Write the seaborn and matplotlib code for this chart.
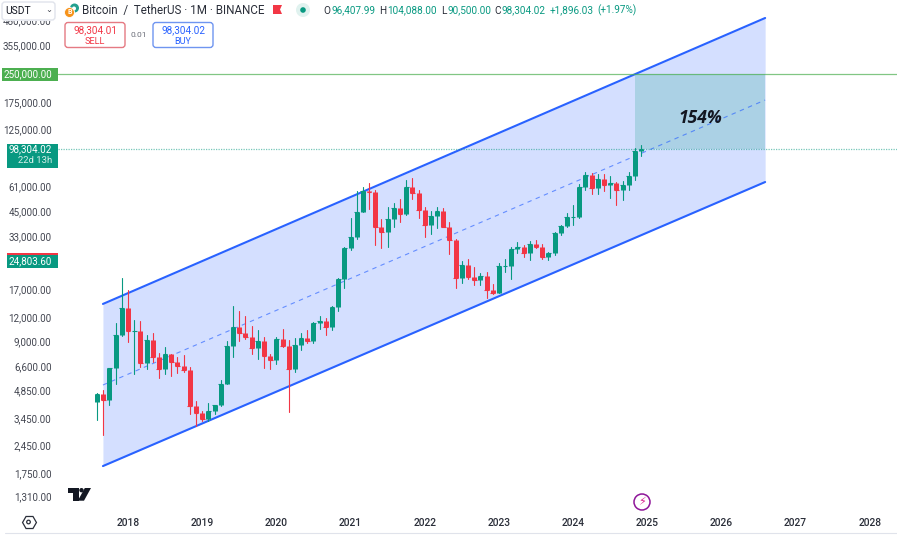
"""Bitcoin / TetherUS monthly candles with a rising channel and a target box."""

import matplotlib

matplotlib.use("Agg")

import matplotlib.pyplot as plt
import numpy as np
import pandas as pd
import seaborn as sns
from matplotlib.lines import Line2D
from matplotlib.patches import Circle, Polygon, Rectangle, FancyBboxPatch

# monthly candles, Aug 2017 .. Dec 2024
OPENS = [4261, 4689, 4378, 6463, 9837,
         13715, 10285, 10325, 6922, 9246, 7485, 6391, 7728, 7011, 6626, 6370, 4041,
         3701, 3434, 3814, 4103, 5321, 8555, 10854, 10080, 9588, 8289, 9140, 7541,
         7195, 9351, 8523, 6412, 8620, 9448, 9138, 11335, 11649, 10776, 13791, 19695,
         28923, 33092, 45134, 58739, 57697, 37253, 35045, 41461, 47100, 43820, 61299, 56950,
         46216, 38466, 43160, 45510, 37630, 31801, 19942, 23296, 20048, 19422, 20490, 17165,
         16541, 23125, 23142, 28465, 29233, 27210, 30472, 29232, 25940, 26962, 34639, 37723,
         42283, 42580, 61130, 71280, 60672, 67540, 62772, 64628, 58974, 63327, 70292, 96407]
HIGHS = [4745, 4939, 6470, 11300, 19798,
         17176, 11786, 11710, 9759, 10020, 7786, 8491, 7750, 7410, 7680, 6586, 4312,
         3810, 4198, 4121, 5600, 9074, 13970, 13147, 12325, 10905, 10370, 9513, 7750,
         9553, 10500, 9188, 9460, 10067, 10380, 11444, 12468, 12050, 14100, 19863, 29300,
         41950, 58352, 61844, 64854, 59500, 41330, 48168, 50500, 52920, 67000, 69000, 59053,
         47990, 45821, 48189, 47444, 39845, 32397, 24668, 25214, 22799, 21085, 21480, 18387,
         23960, 25250, 29184, 31000, 29820, 31431, 31804, 30244, 27483, 35280, 38450, 44700,
         48970, 63913, 73777, 72797, 71979, 71980, 70079, 65660, 66498, 73620, 99800, 104088]
LOWS = [3400, 2817, 4110, 5325, 9722,
        9035, 6000, 6600, 6430, 7032, 5750, 6070, 5880, 6100, 6200, 3652, 3156,
        3349, 3373, 3670, 4067, 5350, 7440, 9080, 9320, 7710, 7300, 6515, 6435,
        6850, 8445, 3782, 6150, 8117, 8833, 8893, 10518, 9825, 10374, 13195, 17572,
        28130, 32296, 45000, 47044, 30000, 28805, 29278, 37332, 39600, 43283, 53256, 42000,
        32917, 34322, 37155, 37578, 26700, 17622, 18781, 19520, 18125, 18190, 15476, 16256,
        16499, 21351, 19549, 26942, 25811, 24800, 28861, 25166, 24901, 26538, 34097, 37615,
        38555, 41884, 59005, 56552, 56500, 58402, 53485, 49000, 52550, 58946, 66835, 90500]
CLOSES = [4724, 4378, 6463, 9838, 13716,
          10285, 10326, 6923, 9246, 7485, 6391, 7727, 7012, 6626, 6371, 4041, 3702,
          3434, 3814, 4103, 5321, 8555, 10854, 10080, 9588, 8289, 9140, 7541, 7195,
          9352, 8523, 6410, 8620, 9448, 9138, 11335, 11649, 10776, 13791, 19695, 28923,
          33092, 45135, 58740, 57694, 37253, 35045, 41461, 47100, 43824, 61299, 56950, 46216,
          38466, 43160, 45510, 37630, 31801, 19942, 23293, 20050, 19422, 20490, 17164, 16542,
          23125, 23141, 28465, 29233, 27210, 30472, 29232, 25940, 26962, 34639, 37723, 42283,
          42580, 61130, 71280, 60672, 67540, 62772, 64628, 58974, 63327, 70292, 96407, 98304]

CHANNEL_X = [-4.05, 103.07]
CHANNEL_TOP = [14400, 501000]
CHANNEL_MID = [5265, 181000]
CHANNEL_BOTTOM = [1925, 65400]
BOX_X = [82.05, 103.07]
BOX_LOW = 98304
BOX_HIGH = 250000

# 250,000 is printed in its own tag below, the ones behind the other tags do not show
PRICE_TICKS = [480000, 355000, 175000, 125000, 61000, 45000, 33000,
               17000, 12000, 9000, 6600, 4850, 3450, 2450, 1750, 1310]
YEAR_TICKS = [0, 12, 24, 36, 48, 60, 72, 84, 96, 108, 120]
YEAR_LABELS = ["2018", "2019", "2020", "2021", "2022", "2023", "2024", "2025", "2026", "2027", "2028"]

GREEN = "#089981"
RED = "#F23645"
BLUE = "#2962FF"
TEXT = "#434651"
FONT = "Roboto"
W, H = 897, 537


def fx(x):
    return x / W


def fy(y):
    return 1 - y / H


def put_text(fig, x, y, s, **kw):
    kw.setdefault("va", "center")
    kw.setdefault("family", FONT)
    kw.setdefault("zorder", 7)
    return fig.text(fx(x), fy(y), s, **kw)


def put_rect(fig, x0, y0, x1, y1, **kw):
    kw.setdefault("zorder", 6)
    fig.add_artist(Rectangle((fx(x0), fy(y1)), (x1 - x0) / W, (y1 - y0) / H,
                             transform=fig.transFigure, **kw))


def put_round(fig, x0, y0, x1, y1, edge):
    # rounded box in pixel units, so the corners stay round
    fig.add_artist(FancyBboxPatch((x0, H - y1), x1 - x0, y1 - y0,
                                  boxstyle="round,pad=0,rounding_size=3",
                                  transform=None, fc="white", ec=edge, lw=1.0, zorder=6))


def put_poly(fig, pts, color):
    fig.add_artist(Polygon([(fx(a), fy(b)) for a, b in pts], closed=True, fc=color, ec="none",
                           transform=fig.transFigure, zorder=7))


def put_circle(fig, x, y, r, **kw):
    kw.setdefault("zorder", 7)
    fig.add_artist(Circle((x, H - y), r, transform=None, **kw))


def candle_tables():
    df = pd.DataFrame({"month": np.arange(-5, len(OPENS) - 5), "open": OPENS, "high": HIGHS,
                       "low": LOWS, "close": CLOSES})
    df["dir"] = np.where(df["close"] >= df["open"], "up", "down")
    wicks = df.melt(id_vars=["month", "dir"], value_vars=["low", "high"], value_name="price")
    bodies = df.melt(id_vars=["month", "dir"], value_vars=["open", "close"], value_name="price")
    return df, wicks, bodies


def draw_chart(ax):
    pal = {"up": GREEN, "down": RED}
    df, wicks, bodies = candle_tables()

    ax.fill_between(CHANNEL_X, CHANNEL_BOTTOM, CHANNEL_TOP, color=BLUE, alpha=0.2, lw=0, zorder=1)
    ax.fill_between(BOX_X, [BOX_LOW, BOX_LOW], [BOX_HIGH, BOX_HIGH], color=GREEN, alpha=0.2, lw=0, zorder=1.5)
    sns.lineplot(x=CHANNEL_X, y=CHANNEL_TOP, color=BLUE, lw=1.5, ax=ax, zorder=2)
    sns.lineplot(x=CHANNEL_X, y=CHANNEL_BOTTOM, color=BLUE, lw=1.5, ax=ax, zorder=2)
    sns.lineplot(x=CHANNEL_X, y=CHANNEL_MID, color=BLUE, lw=0.8, alpha=0.65, ax=ax, zorder=2,
                 linestyle=(0, (4, 4)))

    ax.axhline(BOX_HIGH, color="#4CAF50", lw=0.9, alpha=0.7, zorder=2)
    ax.axhline(BOX_LOW, color=GREEN, lw=0.9, ls=(0, (1, 1)), alpha=0.55, zorder=2)

    sns.lineplot(data=wicks, x="month", y="price", hue="dir", units="month", estimator=None,
                 palette=pal, lw=0.8, legend=False, ax=ax, zorder=3)
    sns.lineplot(data=bodies, x="month", y="price", hue="dir", units="month", estimator=None,
                 palette=pal, lw=3.6, legend=False, ax=ax, zorder=4, solid_capstyle="butt")
    # dojis would vanish as zero height bodies
    sns.scatterplot(data=df, x="month", y="close", hue="dir", palette=pal, marker="_", s=12,
                    linewidth=0.8, legend=False, ax=ax, zorder=4)

    ax.set_yscale("log")
    ax.set_xlim(-11.32, 124.4)
    ax.set_ylim(1088.5, 626400)
    ax.set_xticks(YEAR_TICKS, YEAR_LABELS)
    ax.set_yticks(PRICE_TICKS, [f"{p:,.2f}" for p in PRICE_TICKS])
    ax.minorticks_off()
    ax.tick_params(axis="y", length=0, pad=4.6, labelsize=7.1, labelcolor=TEXT)
    ax.tick_params(axis="x", length=0, pad=4.0, labelsize=7.4, labelcolor="#2a2e39")
    for lab in ax.get_xticklabels() + ax.get_yticklabels():
        lab.set_family(FONT)
    for lab in ax.get_yticklabels():
        lab.set_verticalalignment("center")
    for lab in ax.get_xticklabels():
        lab.set_fontweight("medium")
    ax.set_xlabel("")
    ax.set_ylabel("")
    sns.despine(ax=ax, left=True, bottom=True)

    ax.text(92.6, 144000, "154%", style="italic", weight="bold", fontsize=12.6, color="#131722",
            ha="center", va="center", family="Open Sans", zorder=5)


def draw_header(fig):
    # the scale's top label runs under the header
    put_rect(fig, 0, 0, 60, 21, fc="white", ec="none", zorder=5)
    put_round(fig, 2, 2, 55, 20, "#e0e3eb")
    put_text(fig, 5, 10.5, "USDT", fontsize=7.4, color="#131722")
    put_text(fig, 49, 9, "⌄", fontsize=6, color=TEXT, ha="center", family="DejaVu Sans")

    put_circle(fig, 74.5, 8, 4.5, fc="#22a08f", ec="none")
    put_circle(fig, 74, 8.5, 2, fc="white", ec="none")
    put_circle(fig, 69.5, 12.5, 5, fc="#F7931A", ec="white", lw=0.6)
    put_text(fig, 69.5, 12.5, "B", fontsize=5, color="white", ha="center", weight="bold")

    put_text(fig, 82, 10.5, "Bitcoin  /  TetherUS · 1M · BINANCE", fontsize=8.4, color="#2a2e39")
    put_poly(fig, [(273, 5), (282, 5), (280, 9.5), (282, 14), (273, 14)], "#F23645")
    put_circle(fig, 303, 10, 7, fc="#e0f2ef", ec="none")
    put_circle(fig, 303, 10, 2.8, fc=GREEN, ec="none")

    parts = [(323, "O", "#2a2e39"), (331, "96,407.99", GREEN), (379, "H", "#2a2e39"),
             (387, "104,088.00", GREEN), (441, "L", "#2a2e39"), (447, "90,500.00", GREEN),
             (494, "C", "#2a2e39"), (501, "98,304.02", GREEN), (550, "+1,896.03", GREEN),
             (597, "(+1.97%)", GREEN)]
    for x, s, col in parts:
        put_text(fig, x, 10.5, s, fontsize=7.2, color=col)

    put_round(fig, 65, 22.5, 125, 47.5, "#e57a83")
    put_text(fig, 95, 30.5, "98,304.01", fontsize=7.2, color=RED, ha="center")
    put_text(fig, 95, 41, "SELL", fontsize=6.6, color=RED, ha="center")
    put_text(fig, 139, 35, "0.01", fontsize=6, color="#6a6d78", ha="center")
    put_round(fig, 153, 22.5, 213, 47.5, "#6f95f0")
    put_text(fig, 183, 30.5, "98,304.02", fontsize=7.2, color=BLUE, ha="center")
    put_text(fig, 183, 41, "BUY", fontsize=6.6, color=BLUE, ha="center")


def draw_scale_labels(fig):
    put_rect(fig, 2, 68, 58, 80.5, fc="#4CAF50", ec="none")
    put_text(fig, 52, 74.3, "250,000.00", fontsize=7.1, color="white", ha="right")

    put_rect(fig, 7, 143.5, 58, 167.5, fc=GREEN, ec="none")
    put_text(fig, 52, 149.5, "98,304.02", fontsize=7.1, color="white", ha="right")
    put_text(fig, 52, 160.5, "22d 13h", fontsize=6.8, color="#d5f0ea", ha="right")

    put_rect(fig, 7, 253, 58, 268, fc=GREEN, ec="none")
    put_rect(fig, 7, 253, 58, 254.5, fc=RED, ec="none")
    put_text(fig, 52, 260.8, "24,803.60", fontsize=7.1, color="white", ha="right")


def draw_footer(fig):
    put_poly(fig, [(68, 488), (79, 488), (79, 500.7), (73, 500.7), (73, 492.5), (68, 492.5)], "#131722")
    put_circle(fig, 81.5, 490.2, 2.2, fc="#131722", ec="none")
    put_poly(fig, [(84.8, 488), (91, 488), (84, 500.7), (77.8, 500.7)], "#131722")

    put_circle(fig, 642, 502, 8, fc="white", ec="#8e1599", lw=1.1)
    put_text(fig, 642, 502, "⚡", fontsize=8, color="#d81b8c", ha="center", family="DejaVu Sans")

    fig.add_artist(Line2D([fx(28.5)], [fy(522)], marker="H", ms=10, mfc="white", mec="#2a2e39",
                          mew=0.9, transform=fig.transFigure, zorder=7))
    put_circle(fig, 28.5, 522, 1.8, fc="white", ec="#2a2e39", lw=0.9)
    fig.add_artist(Line2D([fx(5), fx(W)], [fy(532.5), fy(532.5)], color="#e0e3eb", lw=0.8,
                          transform=fig.transFigure, zorder=7))


def main():
    sns.set_theme(style="white")
    fig = plt.figure(figsize=(W / 100, H / 100), dpi=100, facecolor="white")
    ax = fig.add_axes([58 / W, 1 - 512 / H, (W - 58) / W, 512 / H])
    draw_chart(ax)
    draw_header(fig)
    draw_scale_labels(fig)
    draw_footer(fig)
    fig.savefig("out.png", dpi=100)


if __name__ == "__main__":
    main()
